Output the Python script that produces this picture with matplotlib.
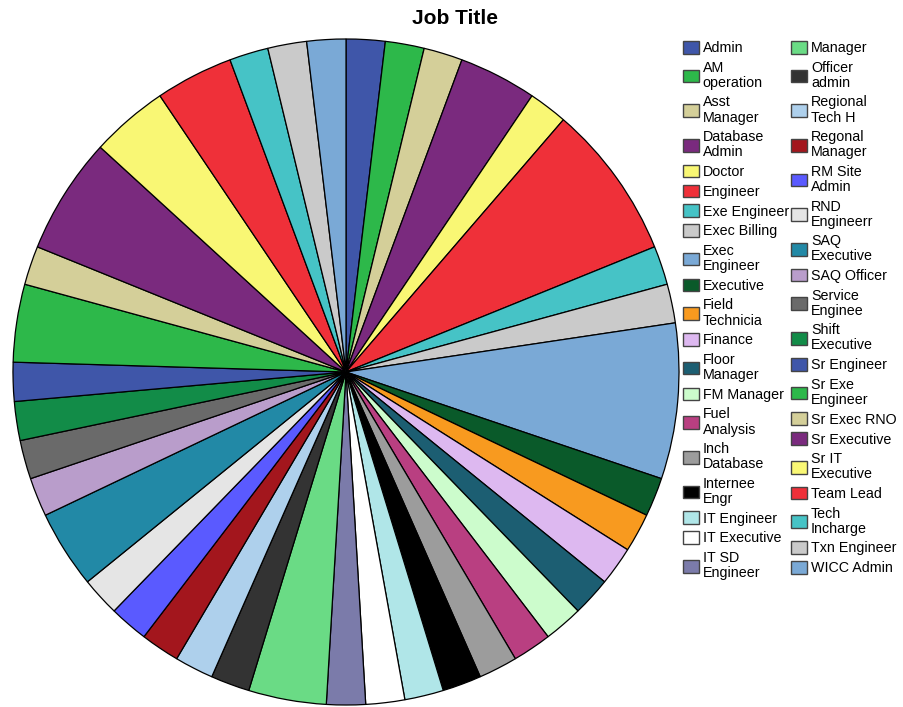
import matplotlib
matplotlib.use("Agg")
import matplotlib.pyplot as plt

plt.rcParams['font.family'] = ['Liberation Sans', 'DejaVu Sans']

title = "Job Title"

categories = [
    "Admin", "AM\noperation", "Asst\nManager", "Database\nAdmin", "Doctor",
    "Engineer", "Exe Engineer", "Exec Billing", "Exec\nEngineer", "Executive",
    "Field\nTechnicia", "Finance", "Floor\nManager", "FM Manager", "Fuel\nAnalysis",
    "Inch\nDatabase", "Internee\nEngr", "IT Engineer", "IT Executive", "IT SD\nEngineer",
    "Manager", "Officer\nadmin", "Regional\nTech H", "Regonal\nManager", "RM Site\nAdmin",
    "RND\nEngineerr", "SAQ\nExecutive", "SAQ Officer", "Service\nEnginee", "Shift\nExecutive",
    "Sr Engineer", "Sr Exe\nEngineer", "Sr Exec RNO", "Sr Executive", "Sr IT\nExecutive",
    "Team Lead", "Tech\nIncharge", "Txn Engineer", "WICC Admin",
]

counts = [
    1, 1, 1, 2, 1,
    4, 1, 1, 4, 1,
    1, 1, 1, 1, 1,
    1, 1, 1, 1, 1,
    2, 1, 1, 1, 1,
    1, 2, 1, 1, 1,
    1, 2, 1, 3, 2,
    2, 1, 1, 1,
]

palette = [
    "#3F56A9", "#2DB84A", "#D4CF99", "#7A2A7E", "#F9F774",
    "#EF3039", "#46C3C6", "#CACACA", "#7AA9D6", "#0A5A2A",
    "#F89A1F", "#DDB8F0", "#1C5E72", "#CCFCCC", "#B93F81",
    "#9C9C9C", "#000000", "#B0E6E8", "#FFFFFF", "#7B7BAA",
    "#6ADB85", "#333333", "#AED0EC", "#A3161D", "#5A5AFF",
    "#E5E5E5", "#2289A6", "#B99DCB", "#6A6A6A", "#128C48",
]
colors = [palette[i % len(palette)] for i in range(len(counts))]

W, H = 904, 707
fig = plt.figure(figsize=(W / 100, H / 100), dpi=100)

cx, cy, r = 346, 372, 334
ax = fig.add_axes([(cx - r) / W, (H - cy - r) / H, 2 * r / W, 2 * r / H])
wedges, _ = ax.pie(
    counts, colors=colors, startangle=90, counterclock=False, radius=1,
    wedgeprops=dict(edgecolor="black", linewidth=0.9),
)
ax.set_xlim(-1.003, 1.003)
ax.set_ylim(-1.003, 1.003)
ax.set_aspect("equal")
ax.axis("off")

fig.text(455 / W, 1 - 18 / H, title, ha="center", va="center",
         fontsize=15, fontweight="bold")

leg = fig.legend(
    wedges, categories, loc="upper left", bbox_to_anchor=(683 / W, 1 - 41 / H),
    ncol=2, frameon=False, fontsize=10.3, handlelength=1.12, handleheight=0.98,
    handletextpad=0.26, columnspacing=0.15, labelspacing=0.39,
    borderpad=0, borderaxespad=0,
)
for t in leg.get_texts():
    t.set_linespacing(1.1)
for h in leg.legend_handles:
    h.set_edgecolor("#444444")
    h.set_linewidth(1.0)

fig.savefig("out.png", dpi=100)
